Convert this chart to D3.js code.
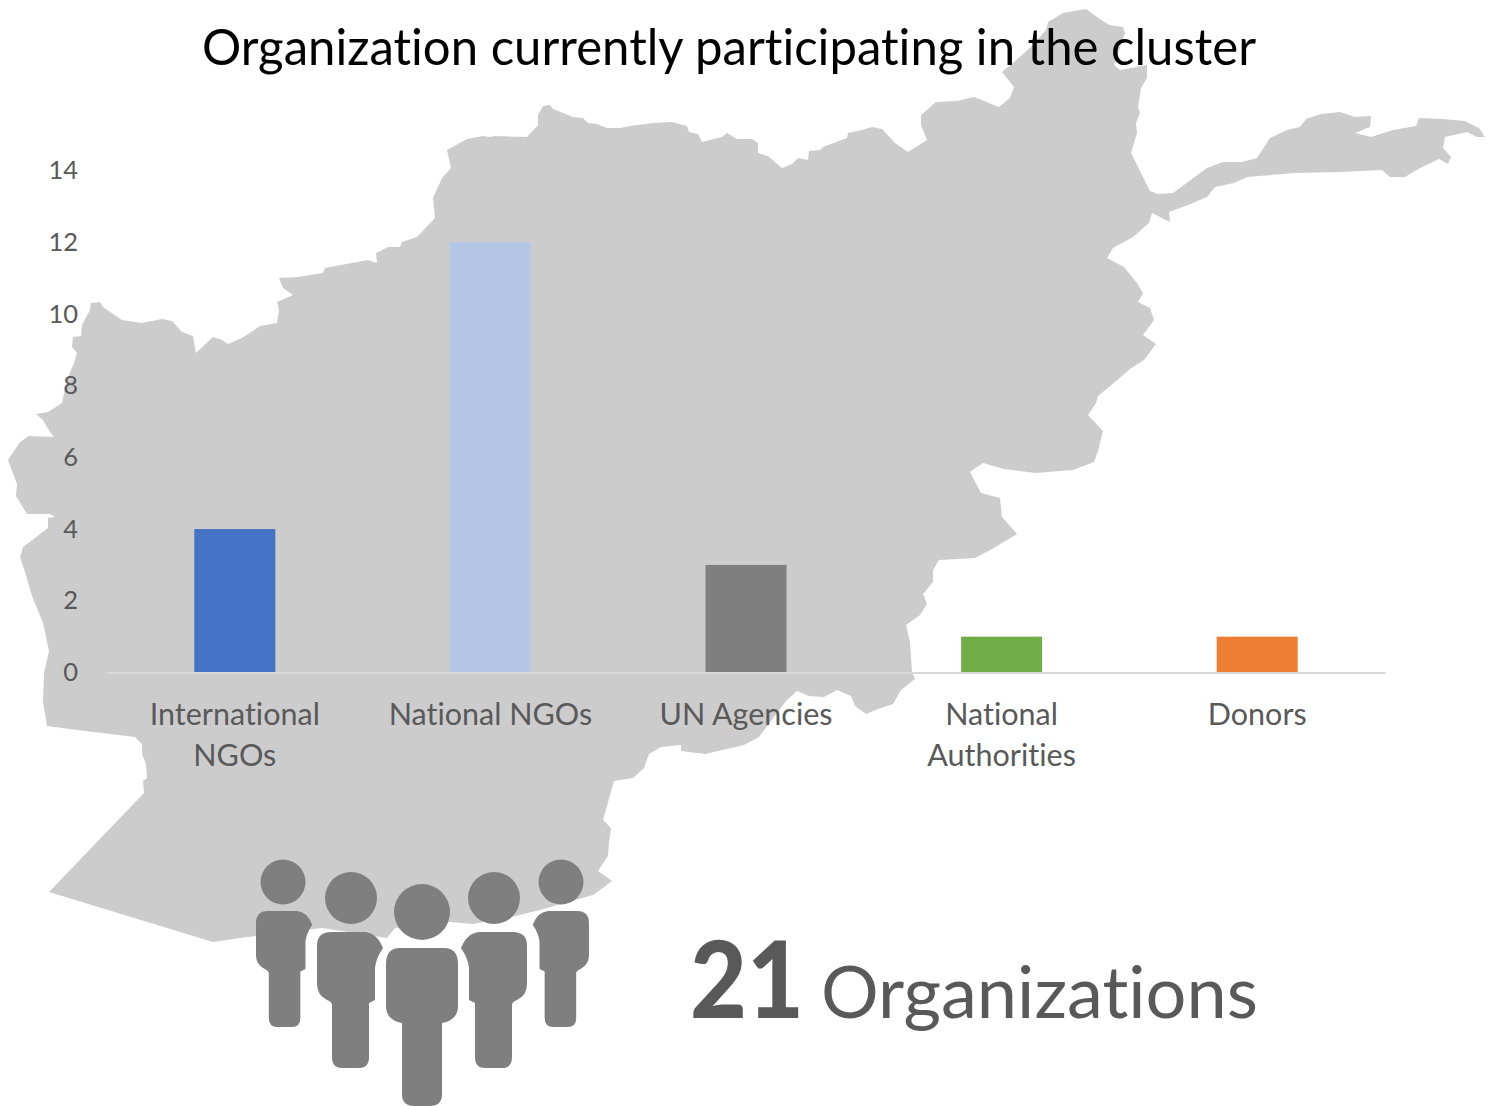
<html>
<head>
<meta charset="utf-8">
<script src="https://d3js.org/d3.v7.min.js"></script>

<style>
body {
  margin: 0;
  background: #fff;
}

svg {
  display: block;
}

text {
  font-family: Lato, "Open Sans", sans-serif;
  font-variant-ligatures: none;
}

.axis text {
  fill: #595959;
}

.x-axis text {
  font-size: 30.5px;
}

.y-axis text {
  font-size: 25.5px;
}
</style>
</head>

<body>
<svg width="1495" height="1106"></svg>

<script>
var categories = ["International NGOs", "National NGOs", "UN Agencies", "National Authorities", "Donors"];
var counts = [4, 12, 3, 1, 1];
var barColors = ["#4472C4", "#B4C7E7", "#7F7F7F", "#70AD47", "#ED7D31"];
var yTicks = [0, 2, 4, 6, 8, 10, 12, 14];
var total = 21;

// it is only a backdrop
var mapOutline = [
  [490,137],[495,136],[527,137],[538,125],[538,115],[543,106],[550,105],[553,109],[573,117],[583,118],[588,123],[597,124],
  [607,128],[620,128],[630,126],[653,123],[672,122],[687,126],[689,132],[698,134],[702,142],[722,137],[727,133],[737,139],
  [752,139],[758,143],[758,153],[768,156],[782,168],[792,164],[798,158],[808,160],[809,151],[820,150],[823,147],[847,138],
  [848,133],[862,130],[872,127],[882,129],[895,143],[908,152],[927,140],[921,125],[921,115],[936,102],[957,101],[974,97],
  [999,107],[1010,98],[1014,87],[1002,72],[1014,62],[1031,47],[1046,30],[1048,22],[1063,13],[1086,9],[1097,17],[1109,25],
  [1123,27],[1125,33],[1114,65],[1120,70],[1147,65],[1147,78],[1141,88],[1138,107],[1140,113],[1136,123],[1137,133],[1131,153],
  [1143,177],[1150,191],[1158,194],[1173,193],[1188,182],[1207,168],[1223,162],[1242,162],[1257,158],[1270,138],[1287,130],
  [1300,127],[1306,119],[1321,114],[1340,112],[1355,117],[1371,116],[1370,127],[1355,133],[1371,137],[1393,130],[1416,126],
  [1419,118],[1443,119],[1465,121],[1479,128],[1485,137],[1477,137],[1467,132],[1445,137],[1443,148],[1451,157],[1448,164],
  [1439,159],[1420,168],[1405,177],[1390,177],[1382,170],[1340,172],[1295,173],[1247,177],[1234,183],[1215,187],[1207,197],
  [1188,205],[1169,212],[1170,222],[1152,213],[1149,223],[1133,237],[1113,248],[1107,258],[1124,267],[1137,283],[1143,293],
  [1138,302],[1150,308],[1154,320],[1143,335],[1156,344],[1144,360],[1130,369],[1115,382],[1098,396],[1096,403],[1088,415],
  [1103,431],[1098,451],[1094,462],[1073,470],[1035,473],[1004,469],[983,463],[970,472],[981,493],[1000,498],[1002,517],
  [1017,534],[992,549],[975,558],[939,560],[933,570],[933,582],[923,594],[927,604],[920,615],[906,625],[910,642],[912,672],
  [915,679],[901,690],[893,704],[878,709],[866,714],[855,706],[851,696],[837,690],[824,697],[809,696],[797,691],[786,701],
  [759,737],[744,745],[705,754],[681,751],[681,745],[661,747],[649,754],[644,768],[633,778],[614,781],[603,820],[611,828],
  [609,842],[608,856],[598,871],[612,881],[600,890],[593,895],[540,910],[507,918],[473,924],[450,922],[395,928],[387,938],
  [322,928],[240,938],[213,942],[49,892],[144,793],[143,781],[147,778],[146,764],[142,754],[142,744],[135,737],[85,731],
  [47,726],[43,702],[44,673],[49,651],[43,623],[32,596],[25,572],[20,557],[23,547],[48,528],[48,518],[55,517],[50,514],
  [27,514],[16,496],[17,484],[8,460],[20,442],[29,436],[54,437],[50,432],[43,420],[36,414],[48,412],[62,403],[67,380],
  [74,363],[77,353],[72,347],[73,337],[81,336],[82,325],[90,310],[91,303],[100,302],[103,307],[122,320],[142,323],[162,319],
  [172,321],[182,332],[193,336],[196,353],[213,337],[222,340],[228,344],[242,338],[260,326],[277,323],[279,310],[277,302],
  [293,295],[283,288],[279,278],[298,277],[323,273],[325,268],[368,260],[377,263],[376,253],[388,247],[400,247],[402,242],
  [417,237],[435,218],[433,198],[442,178],[451,168],[447,150],[467,139],[483,136]
];

// people icon, head and body
var sidePerson = "M-20,0H14Q26,1 32,16Q25,26 24,36V68L18,71V125Q18,136 8,136H-9Q-19,136 -19,125V73Q-19,70 -24,68Q-34,63 -34,52V14Q-34,0 -20,0Z";
var midPerson = "M-22,0H22Q36,0 36,16V58Q36,72 20,75V146Q20,158 8,158H-8Q-20,158 -20,146V75Q-36,72 -36,58V16Q-36,0 -22,0Z";
var people = [
  {head: [283, 882, 22.5], body: sidePerson, t: "translate(285,911) scale(.853)"},
  {head: [351, 898, 26], body: sidePerson, t: "translate(351,932)"},
  {head: [494, 898, 26], body: sidePerson, t: "translate(493,932) scale(-1,1)"},
  {head: [561, 882, 22.5], body: sidePerson, t: "translate(560,911) scale(-.853,.853)"},
  {head: [422, 912, 28], body: midPerson, t: "translate(422,948)"}
];

var svg = d3.select("svg");

var margin = {left: 107, right: 110, top: 170.5, bottom: 433.5};
var width = +svg.attr("width"), height = +svg.attr("height");

svg.append("path")
    .attr("d", d3.line()(mapOutline) + "Z")
    .attr("fill", "#cccccc");

svg.append("text")
    .attr("x", 729)
    .attr("y", 65)
    .attr("text-anchor", "middle")
    .attr("textLength", 1054)
    .attr("lengthAdjust", "spacingAndGlyphs")
    .style("font-size", "50px")
    .style("fill", "#000")
    .text("Organization currently participating in the cluster");

var x = d3.scaleBand()
    .domain(categories)
    .range([margin.left, width - margin.right])
    .paddingInner(0.683)
    .paddingOuter(0.3415);

var y = d3.scaleLinear()
    .domain([0, 14])
    .range([height - margin.bottom, margin.top]);

svg.selectAll(".bar")
    .data(counts)
    .enter().append("rect")
    .attr("class", "bar")
    .attr("x", (d, i) => x(categories[i]))
    .attr("y", d => y(d))
    .attr("width", x.bandwidth())
    .attr("height", d => y(0) - y(d))
    .attr("fill", (d, i) => barColors[i]);

var xAxis = svg.append("g")
    .attr("class", "axis x-axis")
    .attr("transform", "translate(0," + y(0) + ")")
    .call(d3.axisBottom(x).tickSize(0).tickPadding(26));

xAxis.select(".domain")
    .attr("stroke", "#d9d9d9")
    .attr("stroke-width", 2);

xAxis.selectAll("text")
    .attr("dy", null)
    .call(wrap, x.step() * 0.85);

var yAxis = svg.append("g")
    .attr("class", "axis y-axis")
    .attr("transform", "translate(78,0)")
    .call(d3.axisLeft(y).tickValues(yTicks).tickSize(0).tickPadding(0));

yAxis.select(".domain").remove();

// long labels go on two lines
function wrap(labels, maxWidth) {
  labels.each(function(d) {
    var label = d3.select(this);
    var ty = +label.attr("y");
    var fits = this.getComputedTextLength() <= maxWidth;
    var lines = fits ? [d] : d.split(" ");
    label.text(null);
    lines.forEach(function(line, i) {
      label.append("tspan")
          .attr("x", 0)
          .attr("y", ty + 26.5 + i * 40.5)
          .text(line);
    });
  });
}

var crowd = svg.append("g").attr("fill", "#7f7f7f");

crowd.selectAll("circle")
    .data(people)
    .enter().append("circle")
    .attr("cx", d => d.head[0])
    .attr("cy", d => d.head[1])
    .attr("r", d => d.head[2]);

crowd.selectAll("path")
    .data(people)
    .enter().append("path")
    .attr("d", d => d.body)
    .attr("transform", d => d.t);

svg.append("text")
    .attr("x", 690)
    .attr("y", 1018)
    .attr("textLength", 114)
    .attr("lengthAdjust", "spacingAndGlyphs")
    .style("font-size", "106px")
    .style("font-weight", 900)
    .style("fill", "#595959")
    .text(total);

svg.append("text")
    .attr("x", 821)
    .attr("y", 1018)
    .attr("textLength", 437)
    .attr("lengthAdjust", "spacingAndGlyphs")
    .style("font-size", "72px")
    .style("fill", "#595959")
    .text("Organizations");
</script>

</body>
</html>
